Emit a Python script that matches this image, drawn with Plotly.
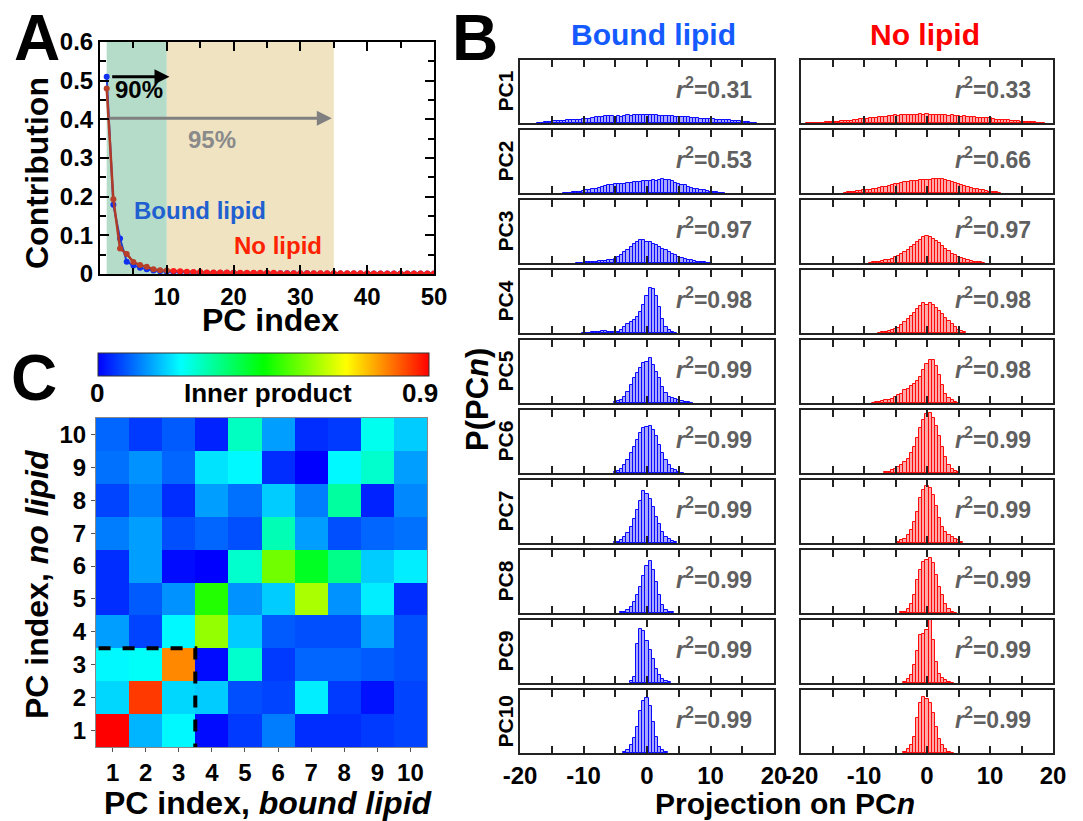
import plotly.graph_objects as go

W, H = 1083, 821
FONT = "Liberation Sans"

# ---------------- Panel A data ----------------
pc_index = list(range(1, 51))
contrib_bound = [0.510, 0.179, 0.092, 0.032, 0.022, 0.016, 0.012, 0.009, 0.007, 0.006,
                 0.005, 0.005, 0.004, 0.004, 0.004, 0.003, 0.003, 0.003, 0.003, 0.003,
                 0.002, 0.002, 0.002, 0.002, 0.002, 0.002, 0.002, 0.002, 0.002, 0.002,
                 0.002, 0.001, 0.001, 0.001, 0.001, 0.001, 0.001, 0.001, 0.001, 0.001,
                 0.001, 0.001, 0.001, 0.001, 0.001, 0.001, 0.001, 0.001, 0.001, 0.001]
contrib_nolipid = [0.480, 0.193, 0.066, 0.052, 0.031, 0.023, 0.019, 0.012, 0.010, 0.009,
                   0.008, 0.007, 0.006, 0.005, 0.005, 0.004, 0.004, 0.004, 0.004, 0.003,
                   0.003, 0.003, 0.003, 0.003, 0.003, 0.003, 0.002, 0.002, 0.002, 0.002,
                   0.002, 0.002, 0.002, 0.002, 0.002, 0.002, 0.002, 0.002, 0.002, 0.002,
                   0.001, 0.001, 0.001, 0.001, 0.001, 0.001, 0.001, 0.001, 0.001, 0.001]
a_xticks = [10, 20, 30, 40, 50]
a_yticks = [0, 0.1, 0.2, 0.3, 0.4, 0.5, 0.6]
a_yticktext = ["0", "0.1", "0.2", "0.3", "0.4", "0.5", "0.6"]
band90 = [1, 10]
band95 = [10, 35]

# ---------------- Panel C data (rows: no-lipid PC 1..10, cols: bound PC 1..10) ----------------
pc_labels = list(range(1, 11))
inner_row1 = [0.90, 0.16, 0.22, 0.01, 0.05, 0.11, 0.04, 0.04, 0.05, 0.06]
inner_row2 = [0.19, 0.85, 0.19, 0.18, 0.07, 0.06, 0.21, 0.05, 0.015, 0.06]
inner_row3 = [0.22, 0.23, 0.78, 0.01, 0.27, 0.05, 0.09, 0.09, 0.08, 0.07]
inner_row4 = [0.14, 0.06, 0.22, 0.58, 0.18, 0.08, 0.07, 0.07, 0.14, 0.07]
inner_row5 = [0.04, 0.08, 0.13, 0.48, 0.13, 0.18, 0.60, 0.13, 0.21, 0.04]
inner_row6 = [0.04, 0.14, 0.01, 0.00, 0.27, 0.55, 0.42, 0.33, 0.18, 0.21]
inner_row7 = [0.11, 0.14, 0.07, 0.09, 0.07, 0.29, 0.14, 0.07, 0.09, 0.10]
inner_row8 = [0.06, 0.11, 0.04, 0.14, 0.10, 0.18, 0.11, 0.31, 0.03, 0.12]
inner_row9 = [0.10, 0.13, 0.09, 0.20, 0.22, 0.04, 0.00, 0.22, 0.27, 0.14]
inner_row10 = [0.09, 0.05, 0.08, 0.03, 0.28, 0.14, 0.04, 0.05, 0.24, 0.18]
inner_z = [inner_row1, inner_row2, inner_row3, inner_row4, inner_row5,
           inner_row6, inner_row7, inner_row8, inner_row9, inner_row10]
inner_min, inner_max = 0.0, 0.9

# ---------------- Panel B data: histogram heights (fraction of panel), bin width 0.5 ----------------
BIN_W = 0.5
bound_pc1 = (-17, [0.005, 0.007, 0.01, 0.015, 0.02, 0.025, 0.03, 0.03, 0.035, 0.04, 0.04, 0.045, 0.05, 0.055,
                   0.06, 0.065, 0.07, 0.085, 0.09, 0.1, 0.1, 0.11, 0.105, 0.11, 0.1, 0.11, 0.1, 0.11, 0.12,
                   0.115, 0.12, 0.125, 0.12, 0.125, 0.13, 0.125, 0.12, 0.125, 0.115, 0.11, 0.11, 0.105, 0.11,
                   0.1, 0.1, 0.095, 0.1, 0.09, 0.08, 0.085, 0.08, 0.07, 0.07, 0.065, 0.06, 0.06, 0.055, 0.05,
                   0.05, 0.045, 0.04, 0.035, 0.03, 0.025, 0.02, 0.015, 0.01, 0.007, 0.005])
bound_pc2 = (-13, [0.003, 0.005, 0.008, 0.01, 0.015, 0.02, 0.03, 0.04, 0.045, 0.06, 0.07, 0.085, 0.1, 0.115,
                   0.125, 0.13, 0.14, 0.14, 0.15, 0.15, 0.16, 0.165, 0.17, 0.17, 0.18, 0.185, 0.19, 0.185,
                   0.2, 0.19, 0.205, 0.215, 0.21, 0.2, 0.185, 0.165, 0.15, 0.135, 0.12, 0.1, 0.085, 0.07,
                   0.06, 0.05, 0.04, 0.03, 0.02, 0.015, 0.01, 0.007, 0.004])
bound_pc3 = (-11, [0.003, 0.005, 0.008, 0.01, 0.012, 0.015, 0.02, 0.025, 0.03, 0.035, 0.04, 0.05, 0.06, 0.09,
                   0.13, 0.17, 0.2, 0.25, 0.3, 0.34, 0.36, 0.36, 0.34, 0.33, 0.3, 0.28, 0.26, 0.23, 0.2,
                   0.18, 0.15, 0.12, 0.1, 0.08, 0.065, 0.05, 0.04, 0.03, 0.02, 0.015, 0.01, 0.006, 0.003])
bound_pc4 = (-10, [0.003, 0.005, 0.008, 0.012, 0.015, 0.02, 0.025, 0.025, 0.02, 0.012, 0.01, 0.02, 0.05, 0.1,
                   0.14, 0.17, 0.2, 0.26, 0.34, 0.44, 0.58, 0.72, 0.7, 0.58, 0.42, 0.23, 0.1, 0.05, 0.02, 0.005])
bound_pc5 = (-5, [0.01, 0.025, 0.05, 0.1, 0.18, 0.29, 0.39, 0.47, 0.55, 0.63, 0.65, 0.71, 0.6, 0.5, 0.39,
                  0.26, 0.16, 0.1, 0.08, 0.06, 0.05, 0.035, 0.02, 0.01, 0.005])
bound_pc6 = (-5, [0.01, 0.03, 0.07, 0.13, 0.21, 0.32, 0.42, 0.53, 0.63, 0.71, 0.73, 0.75, 0.68, 0.58, 0.45,
                  0.32, 0.21, 0.13, 0.07, 0.04, 0.015, 0.005])
bound_pc7 = (-5, [0.01, 0.02, 0.05, 0.09, 0.16, 0.26, 0.38, 0.52, 0.66, 0.83, 0.78, 0.7, 0.57, 0.42, 0.3,
                  0.18, 0.1, 0.06, 0.03, 0.01])
bound_pc8 = (-4, [0.01, 0.02, 0.05, 0.1, 0.17, 0.29, 0.42, 0.58, 0.74, 0.82, 0.68, 0.5, 0.29, 0.12, 0.05,
                  0.02, 0.01])
bound_pc9 = (-2.5, [0.03, 0.1, 0.62, 0.85, 0.82, 0.67, 0.52, 0.38, 0.22, 0.12, 0.06, 0.03, 0.01])
bound_pc10 = (-3.5, [0.02, 0.05, 0.13, 0.24, 0.42, 0.66, 0.82, 0.88, 0.74, 0.5, 0.26, 0.1, 0.05, 0.02])

nolipid_pc1 = (-19, [0.003, 0.004, 0.005, 0.006, 0.007, 0.008, 0.01, 0.012, 0.015, 0.02, 0.022, 0.025, 0.028,
                     0.03, 0.032, 0.04, 0.05, 0.06, 0.065, 0.07, 0.075, 0.08, 0.085, 0.09, 0.1, 0.1, 0.105,
                     0.11, 0.12, 0.115, 0.12, 0.125, 0.125, 0.12, 0.13, 0.125, 0.135, 0.13, 0.145, 0.13, 0.125,
                     0.13, 0.12, 0.125, 0.13, 0.115, 0.12, 0.11, 0.11, 0.1, 0.105, 0.095, 0.095, 0.09, 0.085,
                     0.085, 0.085, 0.08, 0.075, 0.06, 0.055, 0.05, 0.05, 0.045, 0.04, 0.035, 0.03, 0.025, 0.02,
                     0.017, 0.015, 0.012, 0.01, 0.008, 0.006, 0.004])
nolipid_pc2 = (-13, [0.008, 0.01, 0.015, 0.02, 0.025, 0.03, 0.04, 0.045, 0.05, 0.06, 0.07, 0.08, 0.09, 0.1,
                     0.115, 0.13, 0.14, 0.15, 0.165, 0.17, 0.18, 0.185, 0.19, 0.19, 0.2, 0.2, 0.205, 0.2, 0.215,
                     0.22, 0.23, 0.225, 0.21, 0.19, 0.17, 0.155, 0.14, 0.125, 0.11, 0.095, 0.085, 0.07, 0.06,
                     0.05, 0.04, 0.03, 0.02, 0.015, 0.01, 0.005])
nolipid_pc3 = (-9, [0.005, 0.01, 0.015, 0.02, 0.03, 0.04, 0.055, 0.07, 0.09, 0.115, 0.14, 0.17, 0.21, 0.25, 0.29,
                    0.33, 0.37, 0.41, 0.43, 0.41, 0.38, 0.35, 0.31, 0.27, 0.23, 0.19, 0.15, 0.12, 0.1, 0.08,
                    0.06, 0.045, 0.03, 0.02, 0.015, 0.01, 0.005])
nolipid_pc4 = (-7.5, [0.008, 0.012, 0.018, 0.025, 0.04, 0.06, 0.085, 0.13, 0.18, 0.23, 0.27, 0.32, 0.38, 0.43,
                      0.47, 0.44, 0.47, 0.45, 0.4, 0.35, 0.3, 0.24, 0.19, 0.14, 0.09, 0.05, 0.025, 0.01])
nolipid_pc5 = (-8.5, [0.005, 0.01, 0.02, 0.03, 0.045, 0.055, 0.07, 0.09, 0.12, 0.15, 0.2, 0.23, 0.27, 0.3, 0.35,
                      0.42, 0.52, 0.62, 0.68, 0.68, 0.58, 0.44, 0.29, 0.15, 0.08, 0.05, 0.02, 0.008])
nolipid_pc6 = (-6.5, [0.01, 0.02, 0.04, 0.06, 0.09, 0.13, 0.17, 0.22, 0.31, 0.42, 0.55, 0.71, 0.84, 0.93, 0.95,
                      0.87, 0.74, 0.58, 0.42, 0.26, 0.13, 0.06, 0.03, 0.01])
nolipid_pc7 = (-4.5, [0.02, 0.04, 0.07, 0.13, 0.21, 0.34, 0.5, 0.71, 0.84, 0.9, 0.88, 0.76, 0.58, 0.39, 0.26,
                      0.18, 0.13, 0.09, 0.06, 0.04, 0.01])
nolipid_pc8 = (-4, [0.01, 0.02, 0.06, 0.14, 0.29, 0.52, 0.68, 0.81, 0.84, 0.88, 0.79, 0.6, 0.42, 0.28, 0.14,
                    0.06, 0.02, 0.005])
nolipid_pc9 = (-3.5, [0.02, 0.06, 0.13, 0.29, 0.51, 0.76, 0.78, 0.84, 1.0, 0.68, 0.34, 0.15, 0.08, 0.05, 0.02,
                      0.005])
nolipid_pc10 = (-3.5, [0.02, 0.06, 0.13, 0.26, 0.55, 0.79, 0.89, 0.86, 0.79, 0.63, 0.42, 0.23, 0.13, 0.06,
                       0.02, 0.005])

bound_hists = [bound_pc1, bound_pc2, bound_pc3, bound_pc4, bound_pc5,
               bound_pc6, bound_pc7, bound_pc8, bound_pc9, bound_pc10]
nolipid_hists = [nolipid_pc1, nolipid_pc2, nolipid_pc3, nolipid_pc4, nolipid_pc5,
                 nolipid_pc6, nolipid_pc7, nolipid_pc8, nolipid_pc9, nolipid_pc10]
r2_bound = ["0.31", "0.53", "0.97", "0.98", "0.99", "0.99", "0.99", "0.99", "0.99", "0.99"]
r2_nolipid = ["0.33", "0.66", "0.97", "0.98", "0.98", "0.99", "0.99", "0.99", "0.99", "0.99"]
pc_row_labels = ["PC%d" % i for i in range(1, 11)]
hist_xticks = [-20, -10, 0, 10, 20]
hist_xticktext = ["-20", "-10", "0", "10", "20"]


def px(x):
    return x / W


def py(y):
    return 1 - y / H


def note(x, y, text, font, xref="paper", yref="paper", angle=0):
    return dict(x=x, y=y, xref=xref, yref=yref, text=text, showarrow=False, textangle=angle,
                xanchor="center", yanchor="middle", font=font)


def bold(size, color="black"):
    return dict(family=FONT, size=size, color=color, weight="bold")


fig = go.Figure()
annotations = []
shapes = []
layout = {}

# ---------------- Panel A ----------------
fig.add_trace(go.Scatter(x=pc_index, y=contrib_bound, mode="lines+markers",
                         line=dict(color="#1f3fd0", width=2),
                         marker=dict(color="#1030f0", size=6),
                         xaxis="x", yaxis="y"))
red_marker_cols = ["#b8402a" if i <= 10 else "#ff1a1a" for i in pc_index]
fig.add_trace(go.Scatter(x=pc_index, y=contrib_nolipid, mode="lines+markers",
                         line=dict(color="#b03a28", width=2.5),
                         marker=dict(color=red_marker_cols, size=6),
                         xaxis="x", yaxis="y"))
tickfont = bold(24)
layout["xaxis"] = dict(domain=[px(100), px(434)], anchor="y", range=[0, 50],
                       tickvals=a_xticks, ticks="inside", ticklen=9, tickwidth=2, tickcolor="black",
                       minor=dict(dtick=5, ticks="inside", ticklen=6, tickwidth=2, tickcolor="black"),
                       showline=True, linecolor="black", linewidth=2, mirror="ticks",
                       showgrid=False, zeroline=False, tickfont=tickfont)
layout["yaxis"] = dict(domain=[py(274), py(42)], anchor="x", range=[0, 0.6],
                       tickvals=a_yticks, ticktext=a_yticktext, ticks="inside", ticklen=9, tickwidth=2,
                       tickcolor="black",
                       minor=dict(dtick=0.05, ticks="inside", ticklen=6, tickwidth=2, tickcolor="black"),
                       showline=True, linecolor="black", linewidth=2, mirror="ticks",
                       showgrid=False, zeroline=False, tickfont=tickfont)
shapes.append(dict(type="rect", xref="x", yref="y domain", x0=band90[0], x1=band90[1], y0=0, y1=1,
                   fillcolor="#b4dcc8", line=dict(width=0), layer="below"))
shapes.append(dict(type="rect", xref="x", yref="y domain", x0=band95[0], x1=band95[1], y0=0, y1=1,
                   fillcolor="#efe3c2", line=dict(width=0), layer="below"))
annotations.append(dict(x=10.4, y=0.51, ax=1.6, ay=0.51, xref="x", yref="y", axref="x", ayref="y",
                        showarrow=True, arrowhead=2, arrowsize=1, arrowwidth=3, arrowcolor="black", text=""))
annotations.append(dict(x=34.7, y=0.403, ax=1.2, ay=0.403, xref="x", yref="y", axref="x", ayref="y",
                        showarrow=True, arrowhead=2, arrowsize=1, arrowwidth=3, arrowcolor="#808080", text=""))
annotations.append(note(5.9, 0.477, "90%", bold(24), "x", "y"))
annotations.append(note(16.7, 0.347, "95%", bold(24, "#8a8a8a"), "x", "y"))
annotations.append(note(14.9, 0.164, "Bound lipid", bold(24, "#1f5fd0"), "x", "y"))
annotations.append(note(26.6, 0.073, "No lipid", bold(24, "#ff2200"), "x", "y"))
annotations.append(note(px(37), py(173), "Contribution", bold(32), angle=-90))
annotations.append(note(px(270), py(320), "PC index", bold(32)))

# ---------------- Panel C ----------------
jet = [[0.0, "rgb(0,0,255)"], [0.25, "rgb(0,255,255)"], [0.5, "rgb(0,255,0)"],
       [0.75, "rgb(255,255,0)"], [1.0, "rgb(255,0,0)"]]
fig.add_trace(go.Heatmap(z=inner_z, x=pc_labels, y=pc_labels, zmin=inner_min, zmax=inner_max,
                         colorscale=jet, xaxis="x2", yaxis="y2",
                         colorbar=dict(orientation="h", x=px(98), xanchor="left", y=py(353), yanchor="top",
                                       len=331, lenmode="pixels", thickness=23, thicknessmode="pixels",
                                       xpad=0, ypad=0, outlinewidth=1, outlinecolor="#333",
                                       showticklabels=False, ticks="")))
layout["xaxis2"] = dict(domain=[px(96), px(427)], anchor="y2", range=[0.5, 10.5], tickvals=pc_labels,
                        ticks="outside", ticklen=4, tickcolor="#555", showline=True, linecolor="#888",
                        linewidth=1, mirror=True, showgrid=False, zeroline=False, tickfont=tickfont)
layout["yaxis2"] = dict(domain=[py(747), py(418)], anchor="x2", range=[0.5, 10.5], tickvals=pc_labels,
                        ticks="outside", ticklen=4, tickcolor="#555", showline=True, linecolor="#888",
                        linewidth=1, mirror=True, showgrid=False, zeroline=False, tickfont=tickfont)
shapes.append(dict(type="rect", xref="x2", yref="y2", x0=0.42, x1=3.5, y0=0.42, y1=3.5,
                   line=dict(color="black", width=4, dash="dash"), fillcolor="rgba(0,0,0,0)"))
annotations.append(note(px(97), py(393), "0", bold(26)))
annotations.append(note(px(268), py(393), "Inner product", bold(26)))
annotations.append(note(px(420), py(393), "0.9", bold(26)))
annotations.append(note(px(268), py(803), "PC index, <i>bound lipid</i>", bold(32)))
annotations.append(note(px(37), py(584), "PC index, <i>no lipid</i>", bold(32), angle=-90))

# ---------------- Panel B ----------------
col_specs = [(520, 774, bound_hists, r2_bound, "#a8a8ff", "#0a0aff"),
             (801, 1053, nolipid_hists, r2_nolipid, "#ffa8a8", "#ff0a0a")]
for c, (x0p, x1p, hists, r2s, fill, edge) in enumerate(col_specs):
    for r in range(10):
        k = 3 + c * 10 + r
        start, heights = hists[r]
        centers = [start + BIN_W * i for i in range(len(heights))]
        fig.add_trace(go.Bar(x=centers, y=heights, width=BIN_W,
                             marker=dict(color=fill, line=dict(color=edge, width=1)),
                             xaxis="x%d" % k, yaxis="y%d" % k))
        top = 60 + 70 * r
        bot = top + 63
        layout["xaxis%d" % k] = dict(domain=[px(x0p), px(x1p)], anchor="y%d" % k, range=[-20, 20],
                                     tickvals=hist_xticks, ticktext=hist_xticktext, ticks="inside",
                                     ticklen=7, tickwidth=1.5, tickcolor="#222",
                                     minor=dict(dtick=5, ticks="inside", ticklen=7, tickwidth=1.5,
                                                tickcolor="#222"),
                                     showticklabels=(r == 9), tickfont=tickfont,
                                     showline=True, linecolor="#222", linewidth=1.5, mirror="ticks",
                                     showgrid=False, zeroline=False)
        layout["yaxis%d" % k] = dict(domain=[py(bot), py(top)], anchor="x%d" % k, range=[0, 1],
                                     showticklabels=False, ticks="", showline=True, linecolor="#222",
                                     linewidth=1.5, mirror=True, showgrid=False, zeroline=False)
        annotations.append(note(10.5, 0.56, "<i>r</i><sup>2</sup>=" + r2s[r], bold(23, "#606060"),
                                "x%d" % k, "y%d" % k))
        if c == 0:
            annotations.append(note(px(505), py((top + bot) / 2), pc_row_labels[r], bold(21), angle=-90))

annotations.append(note(px(653), py(35), "Bound lipid", bold(30, "#145aff")))
annotations.append(note(px(925), py(35), "No lipid", bold(30, "#ff0000")))
annotations.append(note(px(477), py(400), "P(PC<i>n</i>)", bold(31), angle=-90))
annotations.append(note(px(785), py(803), "Projection on PC<i>n</i>", bold(30)))

# Panel letters
annotations.append(note(px(37), py(38), "A", bold(64)))
annotations.append(note(px(475), py(38), "B", bold(64)))
annotations.append(note(px(34), py(378), "C", bold(64)))

fig.update_layout(width=W, height=H, margin=dict(l=0, r=0, t=0, b=0, pad=0, autoexpand=False),
                  showlegend=False, paper_bgcolor="white", plot_bgcolor="white", bargap=0,
                  annotations=annotations, shapes=shapes, **layout)
fig.write_html("out.html", config={"displayModeBar": False},
               post_script="document.body.style.margin='0px';document.body.style.padding='0px';")
